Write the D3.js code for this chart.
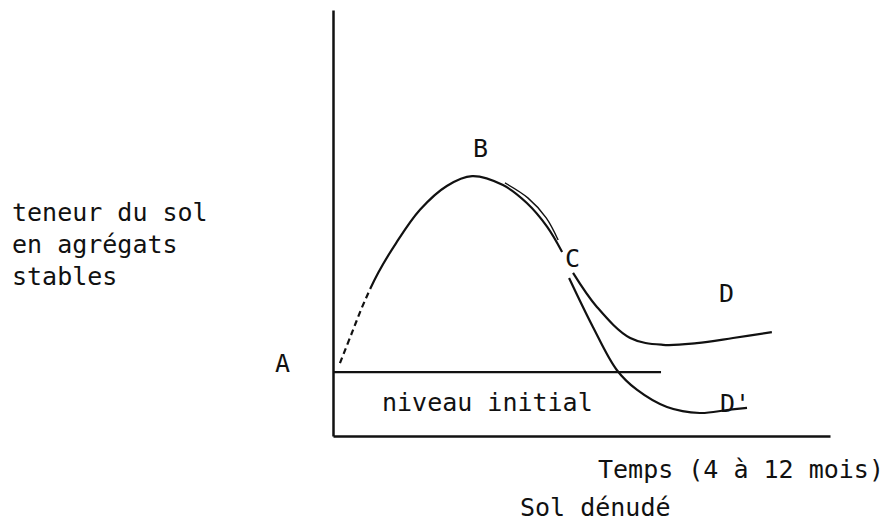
<!DOCTYPE html>
<html>
<head>
<meta charset="utf-8">
<script src="https://cdn.jsdelivr.net/npm/d3@7"></script>
<style>
  body { margin: 0; background: #fff; }
  text { font-family: "DejaVu Sans Mono", monospace; font-size: 25px; fill: #111; }
</style>
</head>
<body>
<div id="chart"></div>
<script>
// curve values, in arbitrary units (time 0-100, aggregate level 0-100)
var initialLevel = 15;
var initialEnd = 66;

// A -> B -> C (the start, near A, is dashed)
var rise = [[1.4, 17.1], [3.8, 24.2], [6.2, 31.2], [9.1, 38.3], [12.7, 45.3],
            [17.5, 53.1], [22.9, 58.7], [28.0, 61.0], [34.2, 58.9], [39.0, 54.7],
            [43.1, 49.1], [46.1, 43.2]];
var dashedLength = 72;
// second trace beside B -> C
var riseDouble = [[34.6, 59.4], [39.2, 55.9], [42.9, 51.2], [45.3, 46.0]];

// C -> D
var branchD = [[48.3, 38.3], [53.1, 30.3], [59.8, 23.0], [66.4, 21.4], [73.2, 21.8],
               [80.5, 23.0], [88.3, 24.4]];
// C -> D'
var branchD2 = [[47.5, 37.1], [52.3, 25.6], [57.1, 15.5], [61.2, 10.8], [67.2, 6.8],
                [73.8, 5.4], [79.3, 6.1], [83.3, 6.6]];

var leftLabel = ["teneur du sol", "en agrégats", "stables"];

function buildChart() {
    var width = 891, height = 528;

    var svg = d3.select("#chart")
        .append("svg")
        .attr("width", width)
        .attr("height", height);

    var x = d3.scaleLinear().domain([0, 100]).range([333, 830]);
    var y = d3.scaleLinear().domain([0, 100]).range([436, 10]);

    // axes without ticks
    svg.append("g")
        .attr("transform", "translate(333,0)")
        .call(d3.axisLeft(y).ticks(0).tickSizeOuter(0))
        .select(".domain").attr("stroke", "#111").attr("stroke-width", 2.5);

    svg.append("g")
        .attr("transform", "translate(0,436)")
        .call(d3.axisBottom(x).ticks(0).tickSizeOuter(0))
        .select(".domain").attr("stroke", "#111").attr("stroke-width", 2.5);

    // niveau initial
    svg.append("line")
        .attr("x1", x(0)).attr("x2", x(initialEnd))
        .attr("y1", y(initialLevel)).attr("y2", y(initialLevel))
        .attr("stroke", "#111").attr("stroke-width", 2.2);

    var line = d3.line()
        .x(d => x(d[0]))
        .y(d => y(d[1]))
        .curve(d3.curveCatmullRom.alpha(0.5));

    // rise: dashes for the first part, then solid
    var risePath = svg.append("path").datum(rise)
        .attr("d", line).attr("fill", "none")
        .attr("stroke", "#111").attr("stroke-width", 2.2);
    var total = risePath.node().getTotalLength();
    var dash = [];
    for (var s = 0; s < dashedLength; s += 10) dash.push(6, 4);
    dash.push(total, 0);
    risePath.attr("stroke-dasharray", dash.join(","));

    [branchD, branchD2].forEach(function (pts) {
        svg.append("path").datum(pts)
            .attr("d", line).attr("fill", "none")
            .attr("stroke", "#111").attr("stroke-width", 2.2);
    });

    svg.append("path").datum(riseDouble)
        .attr("d", line).attr("fill", "none")
        .attr("stroke", "#111").attr("stroke-width", 1.4);

    // point labels
    svg.append("text").attr("x", 473).attr("y", 157).text("B");
    svg.append("text").attr("x", 275).attr("y", 372).text("A");
    svg.append("text").attr("x", 565).attr("y", 267).text("C");
    svg.append("text").attr("x", 719).attr("y", 302).text("D");
    svg.append("text").attr("x", 720).attr("y", 412).text("D'");

    svg.append("text").attr("x", 382).attr("y", 411).text("niveau initial");

    svg.selectAll(".ylab")
        .data(leftLabel)
        .enter()
        .append("text")
        .attr("class", "ylab")
        .attr("x", 12)
        .attr("y", (d, i) => 221 + i * 32)
        .text(d => d);

    svg.append("text").attr("x", 598).attr("y", 478).text("Temps (4 à 12 mois)");
    svg.append("text").attr("x", 520).attr("y", 516).text("Sol dénudé");
}

buildChart();
</script>
</body>
</html>
